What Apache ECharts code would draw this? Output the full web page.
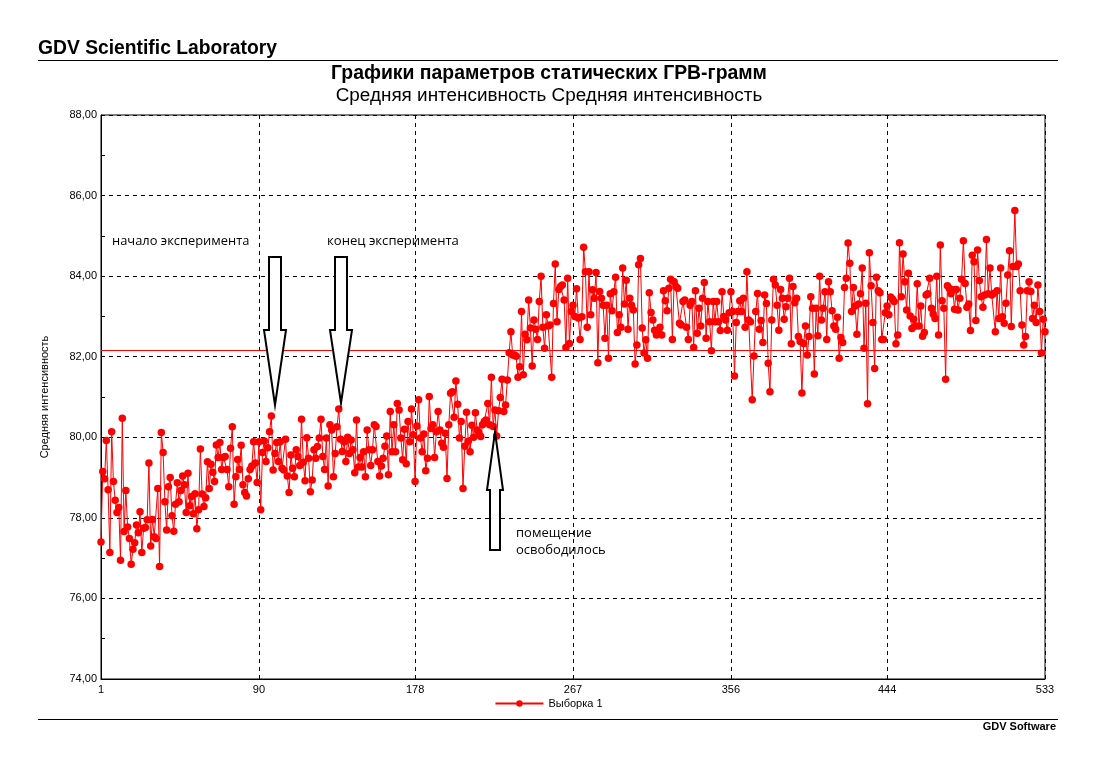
<!DOCTYPE html>
<html><head><meta charset="utf-8">
<script src="https://cdn.jsdelivr.net/npm/echarts@6/dist/echarts.min.js"></script>
<style>html,body{margin:0;padding:0;background:#fff}#c{width:1097px;height:772px}</style>
</head><body><div id="c"></div>
<script>
const seriesName = 'Выборка 1';
const xTickValues = [1, 90, 178, 267, 356, 444, 533];
const yMin = 74, yMax = 88, yStep = 2;
const refLineValue = 82.17;
const headerText = 'GDV Scientific Laboratory';
const titleText = 'Графики параметров статических ГРВ-грамм';
const subtitleText = 'Средняя интенсивность Средняя интенсивность';
const yAxisName = 'Средняя интенсивность';
const footerText = 'GDV Software';
const notes = ['начало эксперимента', 'конец эксперимента', 'помещение', 'освободилось'];
const values = [
77.4,79.15,78.97,79.92,78.7,77.14,80.14,78.9,78.44,78.13,
78.26,76.95,80.47,77.66,78.68,77.77,77.49,76.85,77.22,77.38,
77.82,77.63,78.15,77.14,77.74,77.76,77.95,79.36,77.3,77.96,
77.53,77.49,78.73,76.79,80.12,79.62,78.4,77.7,78.77,79.0,
78.05,77.67,78.34,78.87,78.4,78.68,79.04,78.82,78.13,79.11,
78.3,78.53,78.1,78.6,77.73,78.2,79.71,78.59,78.28,78.5,
79.39,78.73,79.33,79.13,78.9,79.81,79.5,79.87,79.2,79.5,
79.52,79.2,78.77,79.73,80.26,78.34,79.02,79.45,79.2,79.8,
78.82,78.63,78.54,78.97,79.2,79.29,79.89,79.36,78.88,79.89,
78.2,79.62,79.91,79.4,79.74,80.14,80.53,79.19,79.6,79.87,
79.4,79.89,79.23,79.19,79.95,79.04,78.63,79.56,79.23,79.02,
79.69,79.52,79.3,80.45,79.38,78.92,79.99,79.48,78.65,78.94,
79.69,79.48,79.77,79.98,80.45,79.52,79.2,79.98,78.79,80.31,
80.18,79.02,79.6,80.26,80.7,79.95,79.65,79.89,79.4,80.0,
79.6,79.93,79.69,79.12,80.43,79.26,79.5,79.26,79.64,79.02,
80.18,79.69,79.3,79.69,80.31,80.27,79.4,79.04,79.29,79.48,
79.78,80.03,79.07,80.64,79.64,80.31,79.64,80.84,80.68,79.98,
79.44,80.2,79.34,80.39,79.89,80.7,80.06,78.9,80.28,80.93,
79.98,79.64,80.08,79.17,79.48,81.01,80.22,80.31,79.5,80.14,
80.64,80.18,79.85,79.75,80.1,78.98,80.31,81.09,81.13,80.5,
81.4,80.82,79.98,80.39,78.73,79.78,80.62,79.9,79.64,80.3,
80.0,80.61,80.18,80.11,80.02,80.31,80.39,80.43,80.84,80.31,
81.49,80.27,80.68,80.03,80.66,80.99,81.44,80.64,80.8,81.42,
82.1,82.62,82.04,82.04,82.01,81.49,81.75,83.12,81.55,82.56,
82.42,83.41,82.71,81.77,82.91,82.68,82.43,83.37,84.0,82.73,
82.21,83.04,82.76,82.79,81.49,83.32,84.3,82.87,83.67,83.74,
83.78,83.41,82.23,83.95,82.33,83.12,83.28,83.0,83.69,82.96,
82.43,82.99,84.72,84.11,82.73,84.11,83.04,83.66,83.45,84.09,
81.85,83.62,83.45,83.28,82.46,83.28,81.96,83.56,83.14,83.61,
83.97,82.6,83.04,82.73,84.2,83.31,83.9,82.68,83.45,83.28,
83.16,81.82,82.29,84.28,84.44,82.71,82.09,82.42,81.96,83.59,
83.1,82.91,82.66,82.54,82.66,82.73,82.54,83.64,83.39,83.14,
83.7,83.92,82.43,83.86,83.74,83.7,82.83,82.79,83.37,83.41,
82.73,82.43,83.28,83.37,82.23,83.64,82.58,83.2,82.76,83.45,
83.84,82.46,83.37,82.87,82.15,83.37,82.87,83.37,82.87,82.65,
83.61,83.0,82.91,82.66,83.09,83.61,83.12,81.52,82.85,83.12,
83.39,83.12,83.45,82.73,84.11,82.91,82.87,80.93,82.02,83.12,
83.57,82.68,82.9,82.35,83.53,83.32,81.84,81.13,82.91,83.92,
83.78,83.28,82.66,83.67,83.45,82.93,83.24,83.45,83.95,82.32,
83.74,83.34,83.45,82.5,82.38,81.1,82.33,82.76,82.04,82.5,
83.49,83.2,81.57,83.2,82.52,84.0,82.91,83.2,83.61,82.43,
83.86,83.61,83.14,82.76,82.68,82.98,81.96,82.48,82.35,83.72,
83.95,84.82,84.32,83.12,83.72,83.26,82.56,83.31,83.56,84.2,
82.21,83.33,80.83,84.58,83.76,82.85,81.71,83.97,83.64,83.59,
82.43,82.43,83.09,83.26,83.04,83.48,83.43,83.37,82.32,82.54,
84.83,83.49,84.55,83.86,83.16,84.07,83.01,82.7,82.93,82.76,
83.81,82.76,83.26,82.51,82.6,83.53,83.56,83.95,83.2,83.06,
82.95,84.0,82.54,84.77,83.39,83.2,81.44,83.76,83.7,83.56,
83.66,83.18,83.67,83.16,83.45,83.92,84.88,83.82,83.23,83.31,
82.65,84.52,84.36,82.9,84.65,83.89,83.49,83.23,83.53,84.91,
83.56,84.2,83.53,83.57,82.62,83.64,82.95,84.2,82.99,82.83,
83.33,84.03,84.63,82.75,84.24,85.63,84.24,84.3,83.64,82.79,
82.29,82.5,83.64,83.86,83.62,82.95,83.28,82.85,83.78,83.12,
82.09,82.93,82.62
];

const data = values.map((v, i) => [i + 1, v]);
const chart = echarts.init(document.getElementById('c'), null, {renderer: 'canvas'});

function downArrow(cx, top, neck, tip) {
  return [[cx-6,top],[cx+6,top],[cx+6,neck],[cx+11,neck],[cx,tip],[cx-11,neck],[cx-6,neck]];
}
function upArrow(cx, tip, neck, bottom) {
  return [[cx,tip],[cx+8,neck],[cx+5,neck],[cx+5,bottom],[cx-5,bottom],[cx-5,neck],[cx-8,neck]];
}
const F = '"Liberation Sans", Arial, sans-serif';
const NF = '"Open Sans", "Noto Sans", sans-serif';

chart.setOption({
  animation: false,
  backgroundColor: '#fff',
  textStyle: {fontFamily: F},
  grid: {left: 101, right: 52, top: 115, bottom: 93, show: true, borderColor: '#000', borderWidth: 1, backgroundColor: 'transparent'},
  legend: {
    bottom: 58, left: 'center', itemWidth: 48, itemHeight: 8, itemGap: 6,
    textStyle: {fontFamily: F, fontSize: 11, color: '#000'},
    data: [seriesName]
  },
  xAxis: {
    type: 'value', min: 1, max: 533,
    axisLine: {lineStyle: {color: '#000', width: 1}},
    axisTick: {show: true, inside: true, length: 4, customValues: xTickValues, lineStyle: {color: '#000'}},
    axisLabel: {customValues: xTickValues, color: '#000', fontFamily: F, fontSize: 11, margin: 5, showMinLabel: true, showMaxLabel: true},
    splitLine: {show: true, lineStyle: {color: '#000', type: [4, 4], width: 1}}
  },
  yAxis: {
    type: 'value', min: yMin, max: yMax, interval: yStep,
    name: yAxisName, nameLocation: 'middle', nameGap: 51, nameRotate: 90,
    nameTextStyle: {color: '#000', fontFamily: F, fontSize: 11},
    axisLine: {show: true, lineStyle: {color: '#000', width: 1}},
    axisTick: {show: true, inside: true, length: 4, lineStyle: {color: '#000'}},
    minorTick: {show: true, splitNumber: 2, length: 4, lineStyle: {color: '#000'}},
    axisLabel: {color: '#000', fontFamily: F, fontSize: 11, margin: 4, formatter: v => v.toFixed(2).replace('.', ',')},
    splitLine: {show: true, lineStyle: {color: '#000', type: [4, 4], width: 1}}
  },
  series: [{
    name: seriesName, type: 'line', data: data,
    symbol: 'circle', symbolSize: 7.5, showAllSymbol: true,
    itemStyle: {color: '#ff0000'},
    lineStyle: {color: '#ff0000', width: 1},
    markLine: {
      silent: true, symbol: ['none', 'none'], label: {show: false},
      lineStyle: {color: '#ff0000', width: 1, type: 'solid'},
      data: [{yAxis: refLineValue}]
    }
  }],
  graphic: [
    {type: 'text', x: 38, y: 49, style: {text: headerText, font: 'bold 19.3px ' + F, fill: '#000', textVerticalAlign: 'middle'}},
    {type: 'line', shape: {x1: 38, y1: 60.5, x2: 1058, y2: 60.5}, style: {stroke: '#000', lineWidth: 1}},
    {type: 'text', x: 549, y: 74, style: {text: titleText, font: 'bold 19.4px ' + F, fill: '#000', textAlign: 'center', textVerticalAlign: 'middle'}},
    {type: 'text', x: 549, y: 96, style: {text: subtitleText, font: '18.9px ' + F, fill: '#000', textAlign: 'center', textVerticalAlign: 'middle'}},
    {type: 'line', shape: {x1: 38, y1: 719.5, x2: 1058, y2: 719.5}, style: {stroke: '#000', lineWidth: 1}},
    {type: 'text', x: 1056, y: 727, style: {text: footerText, font: 'bold 11px ' + F, fill: '#000', textAlign: 'right', textVerticalAlign: 'middle'}},
    {type: 'text', x: 112, y: 241, style: {text: notes[0], font: '12.9px ' + NF, fill: '#000', textVerticalAlign: 'middle'}},
    {type: 'text', x: 327, y: 241, style: {text: notes[1], font: '13.1px ' + NF, fill: '#000', textVerticalAlign: 'middle'}},
    {type: 'text', x: 516, y: 533, style: {text: notes[2], font: '13px ' + NF, fill: '#000', textVerticalAlign: 'middle'}},
    {type: 'text', x: 516, y: 550, style: {text: notes[3], font: '13px ' + NF, fill: '#000', textVerticalAlign: 'middle'}},
    {type: 'polygon', z: 100, shape: {points: downArrow(275, 257, 330, 405)}, style: {fill: '#fff', stroke: '#000', lineWidth: 2}},
    {type: 'polygon', z: 100, shape: {points: downArrow(341, 257, 330, 403)}, style: {fill: '#fff', stroke: '#000', lineWidth: 2}},
    {type: 'polygon', z: 100, shape: {points: upArrow(495, 432, 490, 550)}, style: {fill: '#fff', stroke: '#000', lineWidth: 2}}
  ]
});
</script></body></html>
